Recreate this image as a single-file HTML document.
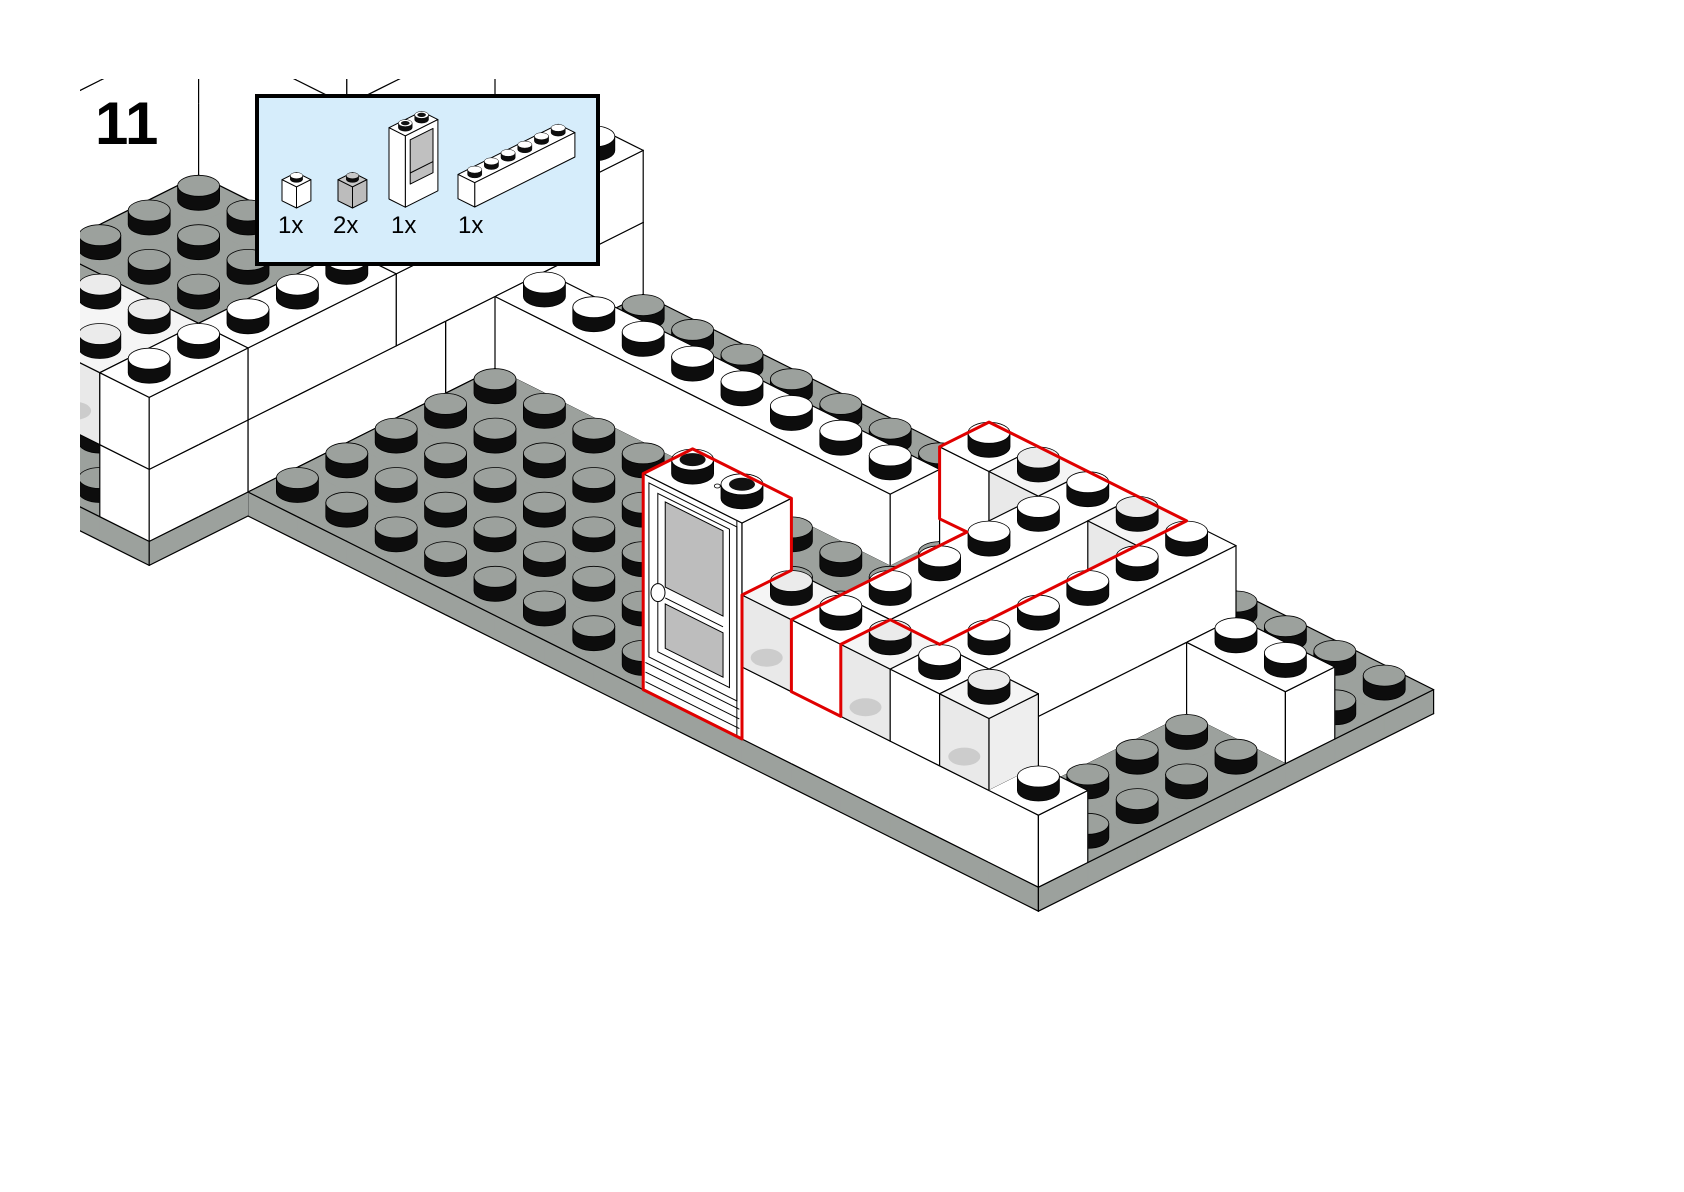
<!DOCTYPE html>
<html><head><meta charset="utf-8"><style>html,body{margin:0;padding:0;background:#fff}svg{display:block}</style></head>
<body>
<svg id="s" width="1684" height="1192" viewBox="0 0 1684 1192" xmlns="http://www.w3.org/2000/svg">
<defs><clipPath id="c"><rect x="80" y="79" width="1604" height="1113"/></clipPath></defs>
<rect x="0" y="0" width="1684" height="1192" fill="#fff"/>
<g id="m" clip-path="url(#c)"></g>
<g id="dd"></g>
<g id="red" fill="none" stroke="#e00000" stroke-width="3" stroke-linejoin="round"></g>
<text x="95" y="144" font-family="Liberation Sans, sans-serif" font-weight="bold" font-size="60" fill="#000">11</text>
<rect x="257" y="96" width="341" height="168" fill="#d6edfb" stroke="#000" stroke-width="4"/>
<g id="parts"></g>
<g font-family="Liberation Sans, sans-serif" font-size="24" fill="#000">
<text x="278" y="233">1x</text>
<text x="333" y="233">2x</text>
<text x="391" y="233">1x</text>
<text x="458" y="233">1x</text>
</g>
</svg>
<script>
(function(){
const SX=49.4,SY=24.7,ZP=24;
function P(a,b,z){return [248+SX*(a+b),492+SY*(a-b)-ZP*z];}
function f(n){return (Math.round(n*10)/10).toString();}
function pt(p){return f(p[0])+','+f(p[1]);}
let out=[];
function poly(ps,fill){out.push('<polygon points="'+ps.map(pt).join(' ')+'" fill="'+fill+'" stroke="'+fill+'" stroke-width="0.7"/>');}
function polyS(ps,fill,o){o.push('<polygon points="'+ps.map(pt).join(' ')+'" fill="'+fill+'" stroke="#000" stroke-width="1" stroke-linejoin="round"/>');}
function line(p,q){out.push('<line x1="'+f(p[0])+'" y1="'+f(p[1])+'" x2="'+f(q[0])+'" y2="'+f(q[1])+'" stroke="#000" stroke-width="1.2" stroke-linecap="round"/>');}
function stud(c,top,sc,hollow,o){
  sc=sc||1;o=o||out;
  const rx=21*sc,ry=10.5*sc,h=14*sc,x=c[0],y=c[1];
  o.push('<path d="M'+f(x-rx)+','+f(y-h)+' L'+f(x-rx)+','+f(y)+' A'+f(rx)+','+f(ry)+' 0 0 0 '+f(x+rx)+','+f(y)+' L'+f(x+rx)+','+f(y-h)+' Z" fill="#0d0d0d" stroke="#000" stroke-width="'+(0.8*Math.max(sc,0.6))+'"/>');
  o.push('<ellipse cx="'+f(x)+'" cy="'+f(y-h)+'" rx="'+f(rx)+'" ry="'+f(ry)+'" fill="'+top+'" stroke="#000" stroke-width="'+(0.8*Math.max(sc,0.6))+'"/>');
  if(hollow)o.push('<ellipse cx="'+f(x)+'" cy="'+f(y-h)+'" rx="'+f(rx*0.62)+'" ry="'+f(ry*0.62)+'" fill="#111"/>');
}
const COL={w:['#ffffff','#ffffff','#ffffff'],g:['#9ca19d','#9ca19d','#9ca19d'],t:['#f5f5f5','#eeeeee','#e9e9e9'],d:['#ffffff','#ffffff','#ffffff']};
const B=[];
function br(a0,a1,b0,b1,z0,z1,col){B.push({a0,a1,b0,b1,z0,z1,col,id:B.length});}
br(0,16,0,8,-1,0,'g');
br(-7,0,-2,8,-1,0,'g');
br(-1,0,-2,0,0,3,'w');br(-1,0,-2,0,3,6,'w');
br(-1,0,0,4,0,3,'w');br(-1,0,4,8,0,3,'w');
br(-1,0,0,3,3,6,'w');br(-1,0,3,8,3,6,'w');
br(-3,-1,-2,0,3,6,'t');
br(-4,-1,0,3,0,3,'w');br(-4,-1,0,3,3,5,'w');br(-4,-1,0,3,5,6,'g');
br(-7,-4,0,3,0,6,'w');br(-7,-4,0,3,6,12,'w');
br(-4,-1,3,6,0,6,'w');br(-4,-1,3,6,6,12,'w');br(-4,-1,3,6,12,18,'w');
br(-9,-4,3,7,0,6,'w');br(-9,-4,3,7,6,12,'w');br(-9,-4,3,7,12,18,'w');
br(0,8,5,6,0,3,'w');
br(8,10,0,1,0,9,'d');
br(10,16,0,1,0,3,'w');
br(10,14,1,6,0,3,'w');
br(9,10,5,6,0,3,'w');
br(14,16,5,6,0,3,'w');
br(10,11,0,1,3,6,'t');br(11,12,0,1,3,6,'w');br(12,13,0,1,3,6,'t');br(13,14,0,1,3,6,'w');br(14,15,0,1,3,6,'t');
br(11,12,1,6,3,6,'w');
br(13,14,1,6,3,6,'w');
br(9,10,5,6,3,6,'w');br(10,11,5,6,3,6,'t');br(12,13,5,6,3,6,'t');

const cells=[],map={},occ=new Set();
B.forEach(q=>{
  for(let a=q.a0;a<q.a1;a++)for(let b=q.b0;b<q.b1;b++){
    let zs=q.z0;
    while(zs<q.z1){const ze=Math.min(zs+3,q.z1);
      const c={a,b,z0:zs,z1:ze,col:q.col,id:q.id};
      cells.push(c);map[a+','+b+','+zs]=c;
      for(let z=zs;z<ze;z++)occ.add(a+','+b+','+z);
      zs=ze;}
  }
});
function occAll(a,b,z0,z1){for(let z=z0;z<z1;z++)if(!occ.has(a+','+b+','+z))return false;return true;}
function same(a,b,z0,id){const c=map[a+','+b+','+z0];return c&&c.id===id;}
cells.sort((p,q)=>((p.a-p.b)-(q.a-q.b))||(p.z0-q.z0));
cells.forEach(c=>{
  const {a,b,z0,z1,id}=c;const col=COL[c.col];
  const above=occ.has(a+','+b+','+z1);
  const upSame=same(a,b,z1,id);
  let below=null;
  for(let zz=z0-3;zz<z0;zz++){const cb=map[a+','+b+','+zz];if(cb&&cb.z1===z0)below=cb;}
  const dnSame=below&&below.id===id;
  if(!occAll(a,b-1,z0,z1)){
    const F=[P(a,b,z0),P(a+1,b,z0),P(a+1,b,z1),P(a,b,z1)];
    poly(F,col[2]);
    if(!dnSame)line(F[0],F[1]);
    if(!upSame)line(F[3],F[2]);
    if(!same(a-1,b,z0,id))line(F[0],F[3]);
    if(!same(a+1,b,z0,id))line(F[1],F[2]);
    if(c.col==='t'){const m=P(a+0.5,b,z0+0.9);out.push('<ellipse cx="'+f(m[0])+'" cy="'+f(m[1])+'" rx="16" ry="9" fill="#c4c4c4" opacity="0.8"/>');}
  }
  if(!occAll(a+1,b,z0,z1)){
    const F=[P(a+1,b,z0),P(a+1,b+1,z0),P(a+1,b+1,z1),P(a+1,b,z1)];
    poly(F,col[1]);
    if(!dnSame)line(F[0],F[1]);
    if(!upSame)line(F[3],F[2]);
    if(!same(a,b-1,z0,id))line(F[0],F[3]);
    if(!same(a,b+1,z0,id))line(F[1],F[2]);
  }
  if(!above){
    const T=[P(a,b,z1),P(a+1,b,z1),P(a+1,b+1,z1),P(a,b+1,z1)];
    poly(T,col[0]);
    if(!same(a,b-1,z0,id))line(T[0],T[1]);
    if(!same(a+1,b,z0,id))line(T[1],T[2]);
    if(!same(a,b+1,z0,id))line(T[2],T[3]);
    if(!same(a-1,b,z0,id))line(T[3],T[0]);
    const top=c.col==='g'?'#9ca19d':(c.col==='t'?'#ebebeb':'#ffffff');
    stud(P(a+0.5,b+0.5,z1),top,1,c.col==='d');
  }
});
document.getElementById('m').innerHTML=out.join('');

out=[];
const M='matrix(49.4,24.7,0,-24,643,690)';
const ve=' vector-effect="non-scaling-stroke"';
let d='<g transform="'+M+'" stroke="#000" stroke-width="1"'+'>';
d+='<polygon points="0.12,1.5 1.9,1.5 1.9,8.75 0.12,8.75" fill="#fff"'+ve+'/>';
d+='<polygon points="0.3,1.9 1.75,1.9 1.75,8.5 0.3,8.5" fill="#fff"'+ve+'/>';
d+='<polygon points="0.45,4.75 1.62,4.75 1.62,8.3 0.45,8.3" fill="#bdbdbd"'+ve+'/>';
d+='<polygon points="0.45,2.2 1.62,2.2 1.62,4.05 0.45,4.05" fill="#bdbdbd"'+ve+'/>';
d+='<line x1="0.45" y1="4.3" x2="1.62" y2="4.3"'+ve+'/>';
d+='<line x1="0.05" y1="1.2" x2="1.95" y2="1.2"'+ve+'/>';
d+='<line x1="0.05" y1="0.8" x2="1.95" y2="0.8"'+ve+'/>';
d+='<line x1="0.05" y1="0.4" x2="1.95" y2="0.4"'+ve+'/>';
d+='<line x1="1.9" y1="0" x2="1.9" y2="9"'+ve+'/>';
d+='</g>';
const kn=P(8.3,0,4.35);
d+='<ellipse cx="'+f(kn[0])+'" cy="'+f(kn[1])+'" rx="7" ry="9" fill="#fff" stroke="#000" stroke-width="1"/>';
const dot=P(9,0.5,9);
d+='<ellipse cx="'+f(dot[0])+'" cy="'+f(dot[1])+'" rx="3" ry="2" fill="#fff" stroke="#000" stroke-width="0.8"/>';
document.getElementById('dd').innerHTML=d;

function path(pts){return '<polygon points="'+pts.map(pt).join(' ')+'"/>';}
let r='';
r+=path([P(8,0,0),P(8,0,9),P(8,1,9),P(10,1,9),P(10,1,6),P(10,0,6),P(10,0,0)]);
r+=path([P(11,0,6),[967,532],P(9,5,3),P(9,5,6),P(9,6,6),P(13,6,6),P(13,1,6),P(12,1,6),P(12,0,6),P(12,0,3),P(11,0,3)]);
document.getElementById('red').innerHTML=r;

const o=[];
function boxGen(pr,a0,a1,b0,b1,z0,z1,top,side,studTop,sc,hollow){
  polyS([pr(a0,b0,z1),pr(a1,b0,z1),pr(a1,b1,z1),pr(a0,b1,z1)],top,o);
  polyS([pr(a1,b0,z0),pr(a1,b1,z0),pr(a1,b1,z1),pr(a1,b0,z1)],side,o);
  polyS([pr(a0,b0,z0),pr(a1,b0,z0),pr(a1,b0,z1),pr(a0,b0,z1)],side,o);
  const ss=[];for(let a=a0;a<a1;a++)for(let b=b0;b<b1;b++)ss.push([a,b]);
  ss.sort((p,q)=>(p[0]-p[1])-(q[0]-q[1]));
  ss.forEach(s=>stud(pr(s[0]+0.5,s[1]+0.5,z1),studTop,sc,hollow,o));
}
function mk(ox,oy,sc){return (a,b,z)=>[ox+sc*SX*(a+b),oy+sc*SY*(a-b)-sc*ZP*z];}
boxGen(mk(282,200.8,0.293),0,1,0,1,0,3,'#fff','#fff','#fff',0.293,false);
boxGen(mk(338,200.8,0.293),0,1,0,1,0,3,'#c8c8c8','#bcbcbc','#c8c8c8',0.293,false);
const pd=mk(389,199,0.33);
boxGen(pd,0,1,0,2,0,9,'#fff','#fff','#fff',0.33,true);
polyS([pd(1,0.3,2.6),pd(1,1.7,2.6),pd(1,1.7,8.2),pd(1,0.3,8.2)],'#c0c0c0',o);
o.push('<line x1="'+f(pd(1,0.3,4)[0])+'" y1="'+f(pd(1,0.3,4)[1])+'" x2="'+f(pd(1,1.7,4)[0])+'" y2="'+f(pd(1,1.7,4)[1])+'" stroke="#000" stroke-width="1"/>');
boxGen(mk(458,198.7,0.338),0,1,0,6,0,3,'#fff','#fff','#fff',0.338,false);
document.getElementById('parts').innerHTML=o.join('');
})();
</script>
</body></html>
